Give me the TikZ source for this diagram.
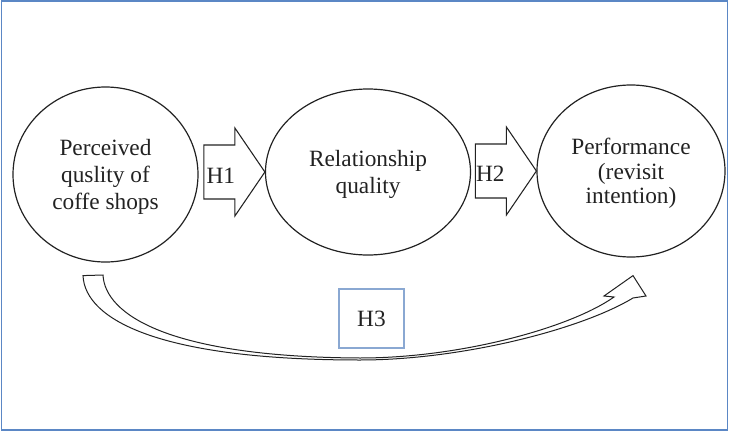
\documentclass[tikz,border=0pt]{standalone}
\usepackage{fontspec}
\setmainfont{Liberation Serif}
\usetikzlibrary{shapes.geometric,calc}
\definecolor{frameblue}{HTML}{5B87C5}
\definecolor{boxblue}{HTML}{8AA8D2}
\definecolor{ink}{HTML}{222222}
\tikzset{
  construct/.style={ellipse, draw=ink, line width=0.9pt, inner sep=0pt},
  constructtext/.style={align=center, text=ink, inner sep=0pt,
    font=\fontsize{17.5}{20.5}\selectfont},
  blockarrow/.style={draw=ink, line width=0.8pt, fill=white, line join=miter},
  hyplabel/.style={text=ink, font=\fontsize{17.5}{20}\selectfont, inner sep=0pt},
  hypbox/.style={draw=boxblue, line width=0.8pt, minimum width=48.75pt,
    minimum height=44.25pt, text=ink, font=\fontsize{17.5}{20}\selectfont},
  curvedarrow/.style={draw=ink, line width=0.75pt, fill=white, line join=miter}
}
% block arrow whose tip sits on the given point
\newcommand\hyparrow[1]{%
  \draw[blockarrow] (#1) -- ++(-30,-44) -- ++(0,17) -- ++(-31,0) -- ++(0,54)
    -- ++(31,0) -- ++(0,17) -- cycle;}
\begin{document}
\begin{tikzpicture}[x=0.75pt,y=-0.75pt]
  \useasboundingbox (0,0) rectangle (732,432);
  \draw[frameblue, line width=1.1pt] (1.5,1.2) rectangle (727.5,430);

  % constructs
  \node[construct, minimum width=138.75pt, minimum height=131.25pt] (perc)
    at (105.5,174.5) {};
  \node[constructtext] (perc-text) at ($(perc.center)+(0,2.5)$)
    {Perceived\\quslity of\\coffe shops};
  \node[construct, minimum width=153.75pt, minimum height=124.5pt] (rel)
    at (368,172) {};
  \node[constructtext] (rel-text) at ($(rel.center)+(0,2.5)$)
    {Relationship\\quality};
  \node[construct, minimum width=141pt, minimum height=129pt] (perf)
    at (631,171) {};
  \node[constructtext, font=\fontsize{17.5}{18.5}\selectfont] (perf-text)
    at ($(perf.center)+(0,2.5)$) {Performance\\(revisit\\intention)};

  % H1 and H2 block arrows
  \hyparrow{rel.west}
  \node[hyplabel] (h1) at ($(rel.west)+(-44,4)$) {H1};
  \hyparrow{perf.west}
  \node[hyplabel] (h2) at ($(perf.west)+(-46,3)$) {H2};

  % H3 curved arrow from perceived quality to performance
  \coordinate (h3start) at ($(perc.south)+(-22.5,13)$);
  \coordinate (h3tip) at ($(perf.south)+(2,18)$);
  \draw[curvedarrow] (h3start) .. controls (85,320) and (160,360) .. (360,360)
    .. controls (460,360) and (580,330) .. (633,298)
    -- (646,296) -- (h3tip) -- (604,296) -- (614,297)
    .. controls (570,328) and (460,358) .. (360,358)
    .. controls (170,357) and (105,315) .. (103,275) -- cycle;
  \node[hypbox] (h3) at (371.5,318.5) {H3};
\end{tikzpicture}
\end{document}
